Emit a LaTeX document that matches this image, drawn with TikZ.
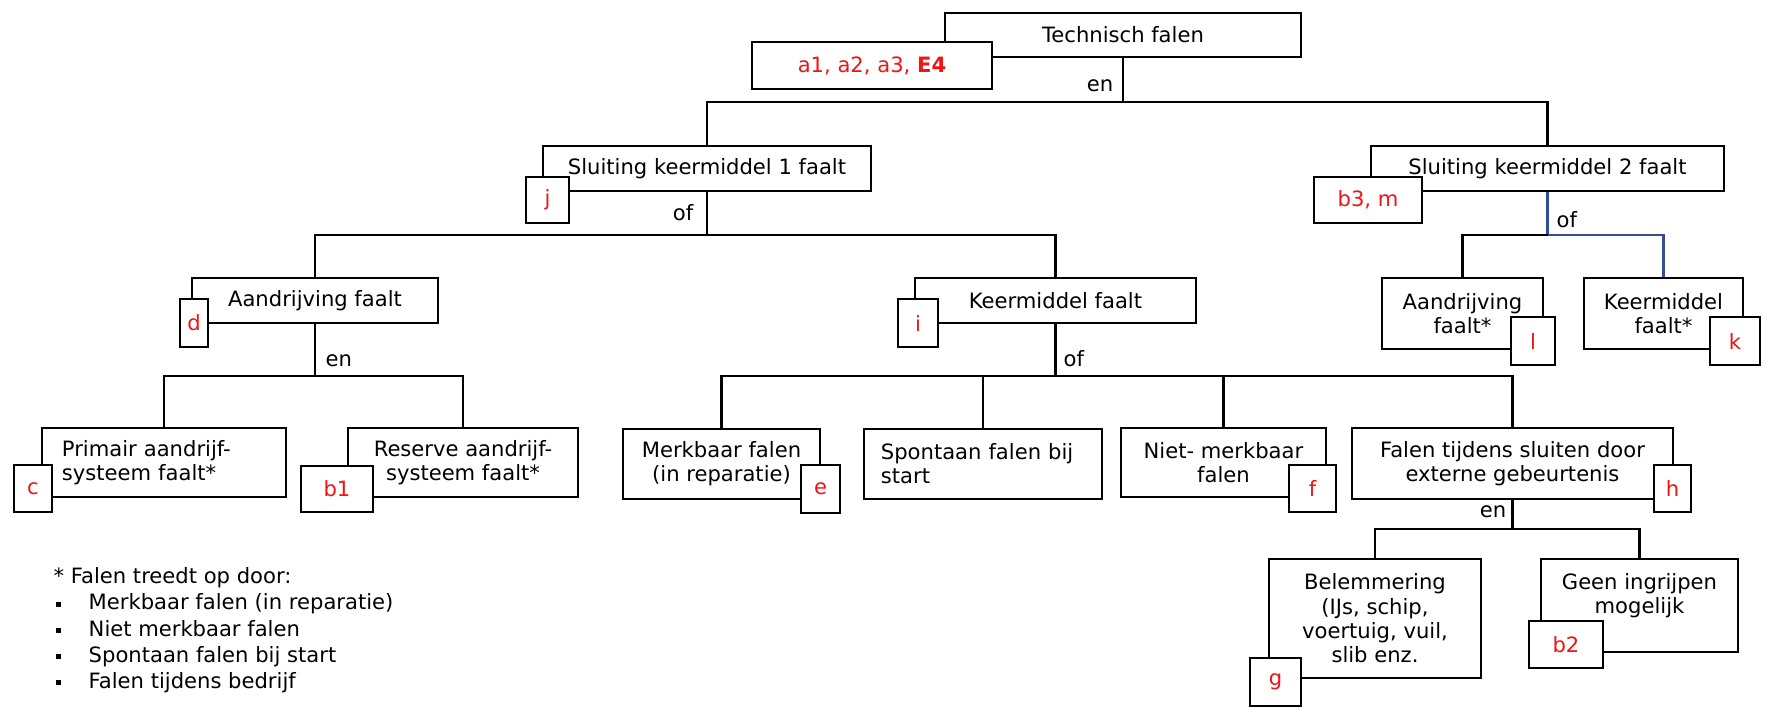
\documentclass[tikz,border=0pt]{standalone}
\usepackage{fontspec}
\setmainfont{DejaVu Sans}
\usepackage{xcolor}
\usepackage{tikz}
\definecolor{labred}{RGB}{240,20,20}
\definecolor{ofblue}{RGB}{50,78,150}
\newcommand{\legbul}{\makebox[9.96pt][l]{\hspace{0.6pt}\rule[0.95pt]{1.4pt}{1.4pt}}}
\tikzset{
  box/.style={draw, fill=white, line width=0.6pt, inner sep=0pt, align=center},
  lab/.style={draw, fill=white, line width=0.6pt, inner sep=0pt, text=labred},
  con/.style={line width=0.6pt},
  gate/.style={inner sep=0pt},
}

\begin{document}
\begin{tikzpicture}[x=0.01cm, y=-0.01cm, every node/.style={font=\fontsize{6}{6.9}\selectfont}]
\useasboundingbox (0,0) rectangle (1768,707);

% gates
\coordinate (en1) at (1123,102);
\coordinate (of1) at (707,235);
\coordinate (of2) at (1547.5,235);
\coordinate (en2) at (315,376);
\coordinate (of3) at (1055.5,376);
\coordinate (en3) at (1512.5,529);

% top
\node[box, minimum width=3.56cm, minimum height=0.44cm] (tf) at (1123,35) {Technisch falen};
\node[lab, minimum width=2.40cm, minimum height=0.47cm] (a1l) at (872,65.5) {a1, a2, a3, \textbf{E4}};
\node[gate, anchor=base east] at (1114,92) {en};

% level 2
\node[box, minimum width=3.28cm, minimum height=0.45cm] (s1) at (707,168.5) {Sluiting keermiddel 1 faalt};
\node[lab, minimum width=0.43cm, minimum height=0.46cm] (jl) at (547.5,200) {j};
\node[gate, anchor=base east] at (694,221) {of};
\node[box, minimum width=3.53cm, minimum height=0.45cm] (s2) at (1547.5,168.5) {Sluiting keermiddel 2 faalt};
\node[lab, minimum width=1.08cm, minimum height=0.46cm] (b3l) at (1368,200) {b3, m};
\node[gate, anchor=base west] at (1556,228) {of};

% level 3
\node[box, minimum width=2.46cm, minimum height=0.45cm] (ad) at (315,300.5) {Aandrijving faalt};
\node[lab, minimum width=0.28cm, minimum height=0.48cm] (dl) at (194,323) {d};
\node[gate, anchor=base west] at (325,367) {en};
\node[box, minimum width=2.81cm, minimum height=0.45cm] (km) at (1055.5,300.5) {Keermiddel faalt};
\node[lab, minimum width=0.40cm, minimum height=0.48cm] (il) at (918,323) {i};
\node[gate, anchor=base west] at (1063,367) {of};
\node[box, minimum width=1.61cm, minimum height=0.71cm] (ad2) at (1462.5,313.5) {Aandrijving\\faalt*};
\node[lab, minimum width=0.44cm, minimum height=0.48cm] (ll) at (1533,341) {l};
\node[box, minimum width=1.59cm, minimum height=0.71cm] (km2) at (1663.5,313.5) {Keermiddel\\faalt*};
\node[lab, minimum width=0.50cm, minimum height=0.48cm] (kl) at (1735,341) {k};

% level 4
\node[box, align=left, text width=2.04cm, inner xsep=0.2cm, minimum height=0.69cm] (pa) at (164,462.5) {Primair aandrijf-\\systeem faalt*};
\node[lab, minimum width=0.38cm, minimum height=0.47cm] (cl) at (33,488.5) {c};
\node[box, minimum width=2.30cm, minimum height=0.69cm] (ra) at (463,462.5) {Reserve aandrijf-\\systeem faalt*};
\node[lab, minimum width=0.72cm, minimum height=0.46cm] (b1l) at (337,489) {b1};
\node[box, minimum width=1.97cm, minimum height=0.70cm] (mf) at (721.5,464) {Merkbaar falen\\(in reparatie)};
\node[lab, minimum width=0.39cm, minimum height=0.48cm] (el) at (820.5,489) {e};
\node[box, align=left, text width=2.04cm, inner xsep=0.17cm, minimum height=0.70cm] (sp) at (983,464) {Spontaan falen bij\\start};
\node[box, minimum width=2.05cm, minimum height=0.69cm] (nm) at (1223.5,462.5) {Niet- merkbaar\\falen};
\node[lab, minimum width=0.47cm, minimum height=0.47cm] (fl) at (1312.5,488.5) {f};
\node[box, minimum width=3.21cm, minimum height=0.71cm] (ft) at (1512.5,463.5) {Falen tijdens sluiten door\\externe gebeurtenis};
\node[lab, minimum width=0.37cm, minimum height=0.47cm] (hl) at (1672.5,488.5) {h};
\node[gate, anchor=base east] at (1507,518) {en};

% level 5
\node[box, minimum width=2.12cm, minimum height=1.19cm] (bl) at (1375,618.5) {Belemmering\\(IJs, schip,\\voertuig, vuil,\\slib enz.};
\node[lab, minimum width=0.51cm, minimum height=0.48cm] (gl) at (1275.5,682) {g};
\node[box, minimum width=1.97cm, minimum height=0.93cm] (gi) at (1639.5,605.5) {Geen ingrijpen\\mogelijk\\~};
\node[lab, minimum width=0.74cm, minimum height=0.47cm] (b2l) at (1566,644.5) {b2};

% connectors
\draw[con] (tf.south) -- (en1);
\draw[con] (en1) -| (s1.north);
\draw[con] (en1) -| (s2.north);
\draw[con] (s1.south) -- (of1);
\draw[con] (of1) -| (ad.north);
\draw[con] (of1) -| (km.north);
\draw[con, ofblue] (s2.south) -- (of2);
\draw[con] (of2) -| (ad2.north);
\draw[con, ofblue] (of2) -| (km2.north);
\draw[con] (ad.south) -- (en2);
\draw[con] (en2) -| (pa.north);
\draw[con] (en2) -| (ra.north);
\draw[con] (km.south) -- (of3);
\draw[con] (of3) -| (mf.north);
\draw[con] (of3) -| (sp.north);
\draw[con] (of3) -| (nm.north);
\draw[con] (of3) -| (ft.north);
\draw[con] (ft.south) -- (en3);
\draw[con] (en3) -| (bl.north);
\draw[con] (en3) -| (gi.north);

% legend
\node[anchor=north west, align=left, inner sep=0pt, font=\fontsize{6}{7.45}\selectfont] (note) at (53,567) {* Falen treedt op door:\\
\legbul Merkbaar falen (in reparatie)\\
\legbul Niet merkbaar falen\\
\legbul Spontaan falen bij start\\
\legbul Falen tijdens bedrijf};
\end{tikzpicture}
\end{document}
